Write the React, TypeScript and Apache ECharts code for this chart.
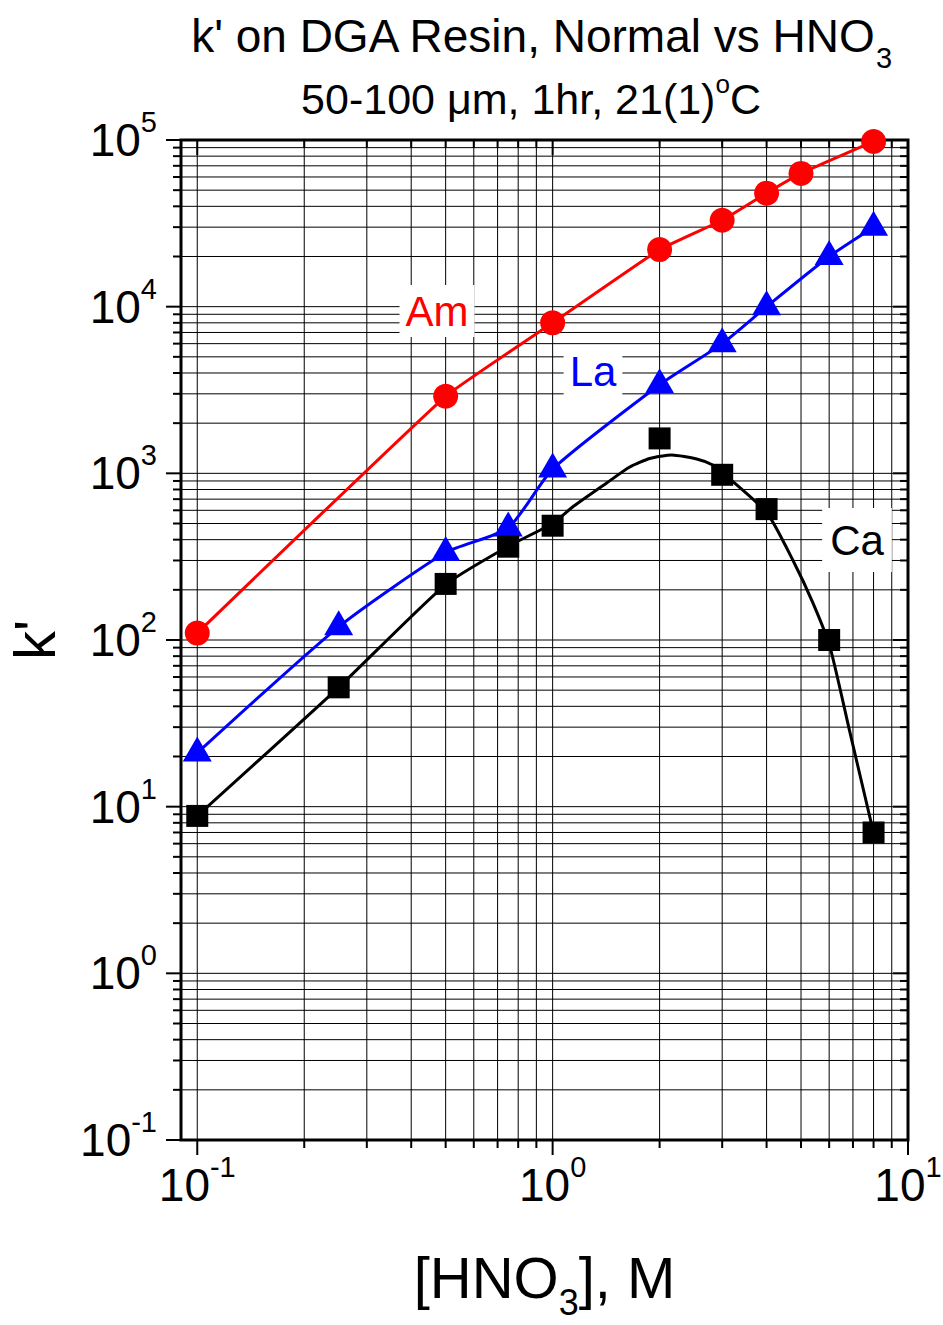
import React, { useEffect, useRef } from "react";
import * as echarts from "echarts";

// ---- data ----
const amX = [0.1, 0.5, 1, 2, 3, 4, 5, 8];
const amY = [110, 2900, 8000, 22000, 33000, 48000, 63000, 98000];

const laX = [0.1, 0.25, 0.5, 0.75, 1, 2, 3, 4, 6, 8];
const laY = [21, 120, 335, 470, 1060, 3400, 6000, 10000, 20000, 30000];

const caX = [0.1, 0.25, 0.5, 0.75, 1, 2, 3, 4, 6, 8];
const caY = [8.8, 52, 217, 363, 485, 1620, 980, 610, 100, 7.0];

// smooth fitted curve through Ca
const caFitX = [0.1, 0.25, 0.5, 0.75, 1, 1.138, 1.419, 1.648, 1.876, 2.164, 2.544, 2.823, 3.012, 4.01, 4.74, 5.4, 6.03, 6.87, 7.97];
const caFitY = [8.8, 52, 215, 365, 500, 628, 875, 1091, 1227, 1288, 1219, 1122, 1005, 578, 302, 167, 91, 27.7, 7.2];

// gridline / tick positions
const xGridValues = [0.1, 0.2, 0.3, 0.4, 0.5, 0.6, 0.7, 0.8, 0.9, 1, 2, 3, 4, 5, 6, 7, 8, 9, 10];
const yDecades = [0.1, 1, 10, 100, 1000, 10000];
const yMultipliers = [1, 2, 3, 4, 5, 6, 7, 8, 9];

const FONT = '"Liberation Sans", Arial, Helvetica, sans-serif';

function isMajor(v: number) {
  const e = Math.log10(v);
  return Math.abs(e - Math.round(e)) < 1e-6;
}

function powLabel(value: number) {
  const e = Math.log10(value);
  if (Math.abs(e - Math.round(e)) > 1e-6) return "";
  return `{b|10}{s|${Math.round(e)}}`;
}

const tickRich = {
  b: { fontSize: 46, fontFamily: FONT, color: "#000" },
  s: { fontSize: 29, fontFamily: FONT, color: "#000", padding: [0, 0, 36, 0] },
};

export default function App() {
  const ref = useRef<HTMLDivElement>(null);

  useEffect(() => {
    if (!ref.current) return;
    const chart = echarts.init(ref.current, null, { renderer: "svg" });

    const yGridValues: number[] = [];
    yDecades.forEach((d) => yMultipliers.forEach((m) => yGridValues.push(+(d * m).toPrecision(6))));
    yGridValues.push(100000);

    const option: any = {
      animation: false,
      backgroundColor: "#fff",
      grid: {
        left: 181,
        top: 140,
        width: 727,
        height: 1000,
        show: true,
        borderColor: "#000",
        borderWidth: 3,
        backgroundColor: "transparent",
        containLabel: false,
        outerBoundsMode: "none",
      },
      xAxis: {
        type: "log",
        logBase: 10,
        min: 0.09,
        max: 10,
        axisLine: { show: false },
        axisTick: { show: false },
        splitLine: { show: false },
        minorTick: { show: false },
        name: "{a|[HNO}{sub|3}{a|], M}",
        nameLocation: "middle",
        nameGap: 94,
        nameTextStyle: {
          rich: {
            a: { fontSize: 58, fontFamily: FONT, color: "#000" },
            sub: { fontSize: 36, fontFamily: FONT, color: "#000", padding: [50, 0, 0, 0] },
          },
        },
        axisLabel: {
          formatter: powLabel,
          margin: 12,
          hideOverlap: false,
          showMinLabel: true,
          showMaxLabel: true,
          rich: tickRich,
        },
      },
      yAxis: {
        type: "log",
        logBase: 10,
        min: 0.1,
        max: 100000,
        axisLine: { show: false },
        axisTick: { show: false },
        splitLine: { show: false },
        minorTick: { show: false },
        name: "k'",
        nameLocation: "middle",
        nameGap: 118,
        nameTextStyle: { fontSize: 58, fontFamily: FONT, color: "#000" },
        axisLabel: {
          formatter: powLabel,
          margin: 24,
          hideOverlap: false,
          showMinLabel: true,
          showMaxLabel: true,
          rich: tickRich,
        },
      },
      graphic: [
        {
          type: "text",
          x: 541,
          y: 36,
          z: 10,
          style: {
            text: "{a|k' on DGA Resin, Normal vs HNO}{sub|3}",
            align: "center",
            verticalAlign: "middle",
            rich: {
              a: { fontSize: 46, fontFamily: FONT, fill: "#000" },
              sub: { fontSize: 29, fontFamily: FONT, fill: "#000", padding: [44, 0, 0, 0] },
            },
          },
        },
        {
          type: "text",
          x: 531,
          y: 99,
          z: 10,
          style: {
            text: "{a|50-100 μm, 1hr, 21(1)}{sup|o}{a|C}",
            align: "center",
            verticalAlign: "middle",
            rich: {
              a: { fontSize: 43, fontFamily: FONT, fill: "#000" },
              sup: { fontSize: 26, fontFamily: FONT, fill: "#000", padding: [0, 0, 30, 0] },
            },
          },
        },
        {
          type: "text",
          x: 437,
          y: 311,
          z: 50,
          style: {
            text: "Am",
            font: `42px ${FONT}`,
            fill: "#ff0000",
            align: "center",
            verticalAlign: "middle",
            backgroundColor: "#fff",
            padding: [6, 6, 4, 6],
          },
        },
        {
          type: "text",
          x: 593,
          y: 371,
          z: 50,
          style: {
            text: "La",
            font: `42px ${FONT}`,
            fill: "#0000ff",
            align: "center",
            verticalAlign: "middle",
            backgroundColor: "#fff",
            padding: [6, 6, 4, 6],
          },
        },
        {
          type: "text",
          x: 857,
          y: 540,
          z: 50,
          style: {
            text: "Ca",
            font: `42px ${FONT}`,
            fill: "#000",
            align: "center",
            verticalAlign: "middle",
            backgroundColor: "#fff",
            padding: [12, 8, 10, 8],
          },
        },
      ],
      series: [
        {
          type: "custom",
          name: "xgrid",
          silent: true,
          clip: false,
          z: 1,
          data: xGridValues.map((v) => [v, 1]),
          renderItem: (params: any, api: any) => {
            const v = api.value(0);
            const p = api.coord([v, 1]);
            const cs = params.coordSys;
            const major = isMajor(v);
            const L = major ? 15 : 8;
            const top = cs.y;
            const bot = cs.y + cs.height;
            const children: any[] = [];
            const atEdge = Math.abs(p[0] - cs.x) < 2 || Math.abs(p[0] - (cs.x + cs.width)) < 2;
            if (!atEdge) {
              children.push({ type: "line", shape: { x1: p[0], y1: top, x2: p[0], y2: bot }, style: { stroke: "#000", lineWidth: 1 } });
            }
            children.push({ type: "line", shape: { x1: p[0], y1: bot, x2: p[0], y2: bot + L }, style: { stroke: "#000", lineWidth: 2 } });
            children.push({ type: "line", shape: { x1: p[0], y1: top, x2: p[0], y2: top + L }, style: { stroke: "#000", lineWidth: 2 } });
            return { type: "group", children };
          },
        },
        {
          type: "custom",
          name: "ygrid",
          silent: true,
          clip: false,
          z: 1,
          data: yGridValues.map((v) => [1, v]),
          renderItem: (params: any, api: any) => {
            const v = api.value(1);
            const p = api.coord([1, v]);
            const cs = params.coordSys;
            const major = isMajor(v);
            const L = major ? 15 : 8;
            const left = cs.x;
            const right = cs.x + cs.width;
            const children: any[] = [];
            const atEdge = Math.abs(p[1] - cs.y) < 2 || Math.abs(p[1] - (cs.y + cs.height)) < 2;
            if (!atEdge) {
              children.push({ type: "line", shape: { x1: left, y1: p[1], x2: right, y2: p[1] }, style: { stroke: "#000", lineWidth: 1 } });
            }
            children.push({ type: "line", shape: { x1: left - L, y1: p[1], x2: left, y2: p[1] }, style: { stroke: "#000", lineWidth: 2 } });
            children.push({ type: "line", shape: { x1: right - L, y1: p[1], x2: right, y2: p[1] }, style: { stroke: "#000", lineWidth: 2 } });
            return { type: "group", children };
          },
        },
        {
          type: "line",
          name: "Am",
          data: amX.map((x, i) => [x, amY[i]]),
          smooth: 0.1,
          symbol: "circle",
          symbolSize: 25,
          clip: false,
          z: 5,
          lineStyle: { color: "#ff0000", width: 3 },
          itemStyle: { color: "#ff0000", opacity: 1 },
        },
        {
          type: "line",
          name: "La",
          data: laX.map((x, i) => [x, laY[i]]),
          smooth: 0.2,
          symbol: "triangle",
          symbolSize: [29, 25],
          symbolOffset: [0, -4],
          clip: false,
          z: 5,
          lineStyle: { color: "#0000ff", width: 3 },
          itemStyle: { color: "#0000ff", opacity: 1 },
        },
        {
          type: "line",
          name: "Ca fit",
          data: caFitX.map((x, i) => [x, caFitY[i]]),
          smooth: 0.2,
          showSymbol: false,
          symbol: "none",
          z: 4,
          lineStyle: { color: "#000", width: 3 },
        },
        {
          type: "scatter",
          name: "Ca",
          data: caX.map((x, i) => [x, caY[i]]),
          symbol: "rect",
          symbolSize: 22,
          clip: false,
          z: 5,
          itemStyle: { color: "#000", opacity: 1 },
        },
      ],
    };

    chart.setOption(option);
    return () => chart.dispose();
  }, []);

  return (
    <div
      ref={ref}
      style={{ position: "absolute", left: 0, top: 0, width: 943, height: 1325, background: "#fff" }}
    />
  );
}
